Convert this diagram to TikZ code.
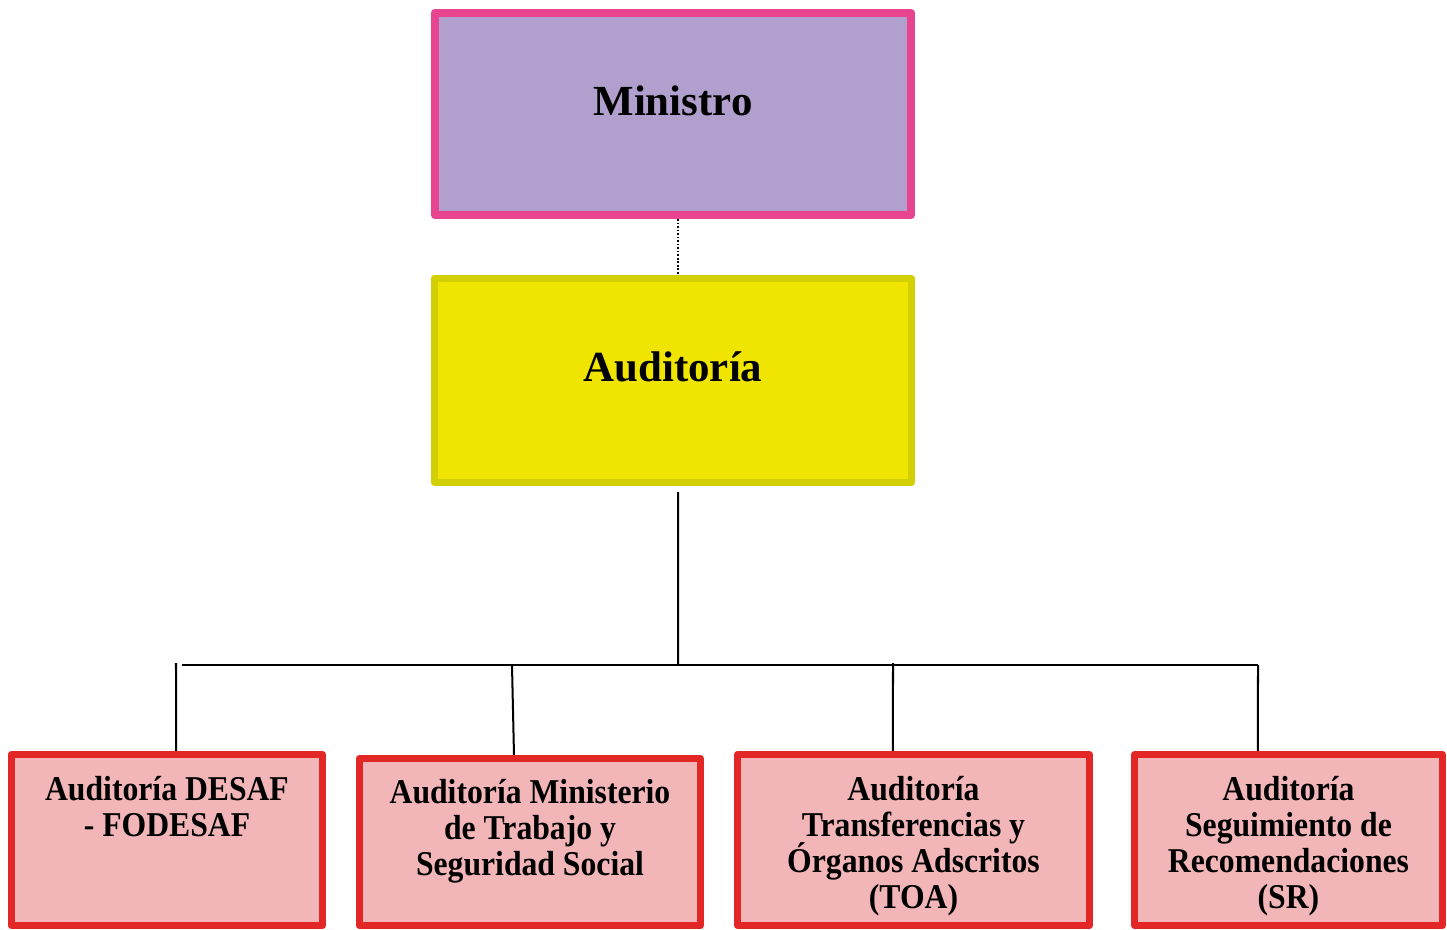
\documentclass[tikz,border=0pt]{standalone}
\usepackage{fontspec}
\setmainfont{Liberation Serif}
\newfontfamily\narrowfont[FakeStretch=0.91]{Liberation Serif}
\newcommand\lowfont{\narrowfont\fontsize{9.9}{10.2}\selectfont\bfseries\lineskiplimit=-10pt\relax}
\definecolor{minpink}{RGB}{232,68,144}
\definecolor{minlila}{RGB}{177,160,205}
\definecolor{audoliva}{RGB}{210,207,5}
\definecolor{audamar}{RGB}{240,229,0}
\definecolor{rojo}{RGB}{227,39,38}
\definecolor{rosa}{RGB}{242,181,184}
\begin{document}
\begin{tikzpicture}[x=0.01cm,y=-0.01cm,line join=round]
	\tikzset{
		topbox/.style={draw,rectangle,inner sep=0pt,text height=0.3cm,text depth=0.28cm,
			font=\fontsize{12.2}{14}\selectfont\bfseries},
		minbox/.style={topbox,line width=0.08cm,draw=minpink,fill=minlila,minimum width=4.76cm,minimum height=2.02cm},
		audbox/.style={topbox,line width=0.07cm,draw=audoliva,fill=audamar,minimum width=4.77cm,minimum height=2.04cm},
		lowbox/.style={draw=rojo,fill=rosa,line width=0.07cm,inner sep=0pt},
		lowtext/.style={anchor=north,align=center,inner sep=0pt,font=\lowfont},
		conn/.style={line width=0.02cm}
	}
	\useasboundingbox (0,0) rectangle (1447,930);
	% cabeza
	\node[minbox] (min) at (673,114) {Ministro};
	\node[audbox] (aud) at (673,380.5) {Auditoría};
	\draw[line width=0.015cm,dash pattern=on 0.5pt off 0.5pt] ([xshift=0.05cm]min.south) -- ([xshift=0.05cm]aud.north);
	% auditorias
	\node[lowbox,minimum width=3.11cm,minimum height=1.71cm] (dsf) at (167,840) {};
	\node[lowbox,minimum width=3.41cm,minimum height=1.67cm] (mts) at (530,842) {};
	\node[lowbox,minimum width=3.52cm,minimum height=1.71cm] (toa) at (913.5,840) {};
	\node[lowbox,minimum width=3.08cm,minimum height=1.71cm] (sr) at (1288.5,840) {};
	\node[lowtext] (dsft) at ([yshift=-0.25cm]dsf.north) {Auditoría DESAF\\- FODESAF};
	\node[lowtext] (mtst) at ([yshift=-0.24cm]mts.north) {Auditoría Ministerio\\de Trabajo y\\Seguridad Social};
	\node[lowtext] (toat) at ([yshift=-0.25cm]toa.north) {Auditoría\\Transferencias y\\Órganos Adscritos\\(TOA)};
	\node[lowtext] (srt) at ([yshift=-0.25cm]sr.north) {Auditoría\\Seguimiento de\\Recomendaciones\\(SR)};
	% lineas
	\coordinate (hub) at (678,665);
	\coordinate (bl) at (182,665);
	\coordinate (br) at (1258,665);
	\coordinate (k1) at (176,663);
	\coordinate (k2) at (512,665);
	\coordinate (k3) at (893,663);
	\draw[conn] ([xshift=0.05cm,yshift=-0.06cm]aud.south) -- (hub);
	\draw[conn] (bl) -- (br);
	\draw[conn] (k1) -- ([xshift=0.09cm]dsf.north);
	\draw[conn] (k2) -- ([xshift=-0.16cm]mts.north);
	\draw[conn] (k3) -- ([xshift=-0.205cm]toa.north);
	\draw[conn] (br) -- ([xshift=-0.305cm]sr.north);
\end{tikzpicture}
\end{document}
